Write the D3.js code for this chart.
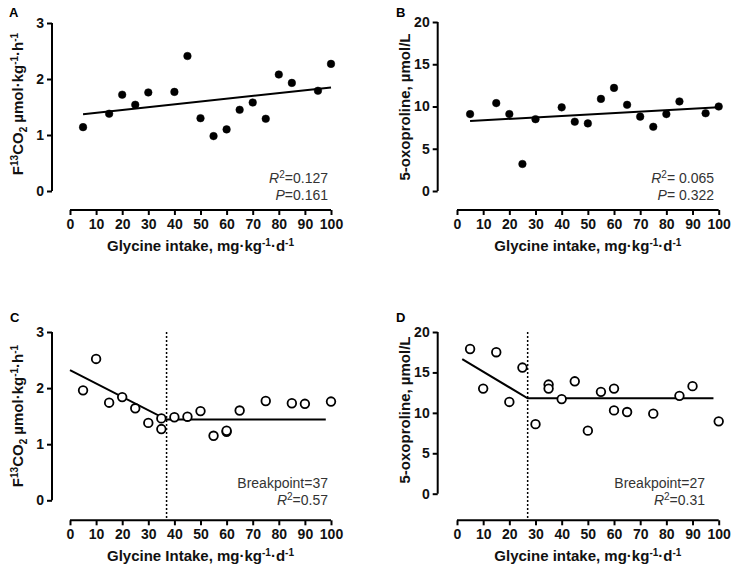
<!DOCTYPE html>
<html><head><meta charset="utf-8">
<script src="https://cdn.jsdelivr.net/npm/d3@7"></script>
<style>body{margin:0;background:#fff}svg{display:block}text{font-family:"Liberation Sans",Arial,sans-serif}</style>
</head><body><svg id="c" width="732" height="567"></svg>
<script>
const xTicks = [0,10,20,30,40,50,60,70,80,90,100];
const ticksF = [0,1,2,3];
const ticks5 = [0,5,10,15,20];

const intakeA = [5,15,20,25,30,40,45,50,55,60,65,70,75,80,85,95,100];
const valuesA = [1.14,1.38,1.72,1.54,1.76,1.77,2.41,1.30,0.98,1.10,1.45,1.58,1.29,2.08,1.93,1.79,2.27];
const fitA = [[5,1.37],[100,1.85]];

const intakeB = [5,15,20,25,30,40,45,50,55,60,65,70,75,80,85,95,100];
const valuesB = [9.1,10.4,9.1,3.2,8.5,9.9,8.2,8.0,10.9,12.2,10.2,8.8,7.6,9.1,10.6,9.2,10.0];
const fitB = [[5,8.28],[100,9.9]];

const intakeC = [5,10,15,20,25,30,35,35,40,45,50,55,60,60,65,75,85,90,100];
const valuesC = [1.96,2.52,1.74,1.84,1.64,1.38,1.46,1.27,1.48,1.49,1.59,1.15,1.22,1.24,1.60,1.77,1.73,1.72,1.76];
const fitC = [[0,2.32],[37,1.44],[98,1.44]];
const breakC = 37;

const intakeD = [5,10,15,20,25,30,35,35,40,45,50,55,60,60,65,75,85,90,100];
const valuesD = [17.9,13.0,17.5,11.35,15.6,8.6,13.5,13.0,11.7,13.9,7.8,12.6,13.0,10.3,10.1,9.9,12.1,13.3,8.95];
const fitD = [[2,16.65],[27,11.8],[98,11.8]];
const breakD = 27;

const svg = d3.select("#c");

function panel(o){
  const g = svg.append("g");
  const x = d3.scaleLinear().domain([0,100]).range([o.x0,o.x1]);
  const y = d3.scaleLinear().domain(o.yDomain).range([o.yBot,o.yTop]);
  // y axis
  const ya = g.append("g").attr("transform",`translate(${o.yAxisX},0)`)
    .call(d3.axisLeft(y).tickValues(o.yTicks).tickSize(5).tickPadding(3).tickFormat(d3.format("d")));
  // x axis
  const xa = g.append("g").attr("transform",`translate(0,${o.xAxisY})`)
    .call(d3.axisBottom(x).tickValues(xTicks).tickSize(5).tickPadding(4).tickFormat(d3.format("d")));
  [ya,xa].forEach(a=>{
    a.select(".domain").attr("stroke","#000").attr("stroke-width",2);
    a.selectAll(".tick line").attr("stroke","#000").attr("stroke-width",2);
    a.selectAll(".tick text").attr("fill","#111").attr("font-size",14).attr("font-weight","bold")
      .attr("font-family",'"Liberation Sans",Arial,sans-serif');
  });
  ya.select(".domain").attr("d",`M-0,${o.yBot}V${o.yTop}`);
  xa.select(".domain").attr("d",`M${o.x0},0H${o.x1}`);
  // breakpoint
  if (o.brk!=null){
    g.append("line").attr("x1",x(o.brk)).attr("x2",x(o.brk)).attr("y1",o.yTop).attr("y2",o.xAxisY)
      .attr("stroke","#000").attr("stroke-width",1.5).attr("stroke-dasharray","2,2");
  }
  // fit line
  g.append("path").datum(o.fit).attr("fill","none").attr("stroke","#000").attr("stroke-width",2)
    .attr("d",d3.line().x(d=>x(d[0])).y(d=>y(d[1])));
  // points
  g.selectAll("circle.pt").data(o.xs.map((v,i)=>[v,o.ys[i]])).join("circle").attr("class","pt")
    .attr("cx",d=>x(d[0])).attr("cy",d=>y(d[1])).attr("r",o.open?4.3:3.8)
    .attr("fill",o.open?"#fff":"#000").attr("stroke","#000").attr("stroke-width",o.open?1.8:0.5);
  // panel label
  g.append("text").attr("x",o.lblX).attr("y",o.lblY).attr("font-size",13).attr("font-weight","bold").text(o.label);
  // x title
  const xt = g.append("text").attr("x",(o.x0+o.x1)/2).attr("y",o.xTitleY).attr("text-anchor","middle")
    .attr("font-size",15).attr("font-weight","bold").attr("fill","#111");
  xt.append("tspan").text(o.xTitle+", mg·kg");
  xt.append("tspan").attr("dy",-5).attr("font-size",10).text("-1");
  xt.append("tspan").attr("dy",5).text("·d");
  xt.append("tspan").attr("dy",-5).attr("font-size",10).text("-1");
  // y title
  const yt = g.append("text").attr("transform",`translate(${o.yTitleX},${o.yTitleY}) rotate(-90)`)
    .attr("text-anchor","middle").attr("font-size",15).attr("font-weight","bold").attr("fill","#111");
  if (o.kind==="F"){
    yt.append("tspan").text("F");
    yt.append("tspan").attr("dy",-5).attr("font-size",10).text("13");
    yt.append("tspan").attr("dy",5).text("CO");
    yt.append("tspan").attr("dy",4).attr("font-size",10).text("2");
    yt.append("tspan").attr("dy",-4).text(" µmol·kg");
    yt.append("tspan").attr("dy",-5).attr("font-size",10).text("-1");
    yt.append("tspan").attr("dy",5).text("·h");
    yt.append("tspan").attr("dy",-5).attr("font-size",10).text("-1");
  } else {
    yt.text("5-oxoproline, µmol/L");
  }
  // annotations
  o.notes.forEach((n,i)=>{
    const t = g.append("text").attr("x",o.noteX).attr("y",o.noteY+i*16.5).attr("text-anchor","end")
      .attr("font-size",14).attr("fill","#333");
    n.forEach(p=>{
      const s = t.append("tspan").text(p.t);
      if (p.i) s.attr("font-style","italic");
      if (p.sup) s.attr("dy",-5).attr("font-size",10);
      if (p.down) s.attr("dy",5);
    });
  });
}

panel({label:"A",lblX:9,lblY:17,x0:70,x1:331,yAxisX:52,yTop:23,yBot:191,xAxisY:210,yDomain:[0,3],yTicks:ticksF,
  xs:intakeA,ys:valuesA,fit:fitA,open:false,kind:"F",xTitle:"Glycine intake",xTitleY:251,yTitleX:23,yTitleY:104,
  noteX:328,noteY:183,notes:[[{t:"R",i:1},{t:"2",sup:1},{t:"=0.127",down:1}],[{t:"P",i:1},{t:"=0.161"}]]});
panel({label:"B",lblX:396,lblY:17,x0:457,x1:718.7,yAxisX:437.7,yTop:22,yBot:191,xAxisY:210,yDomain:[0,20],yTicks:ticks5,
  xs:intakeB,ys:valuesB,fit:fitB,open:false,kind:"O",xTitle:"Glycine intake",xTitleY:251,yTitleX:410,yTitleY:107,
  noteX:714,noteY:183,notes:[[{t:"R",i:1},{t:"2",sup:1},{t:"= 0.065",down:1}],[{t:"P",i:1},{t:"= 0.322"}]]});
panel({label:"C",lblX:10,lblY:322,x0:70,x1:331,yAxisX:52,yTop:332,yBot:500.3,xAxisY:520.3,yDomain:[0,3],yTicks:ticksF,
  xs:intakeC,ys:valuesC,fit:fitC,open:true,brk:breakC,kind:"F",xTitle:"Glycine Intake",xTitleY:561,yTitleX:23,yTitleY:416,
  noteX:328,noteY:488,notes:[[{t:"Breakpoint=37"}],[{t:"R",i:1},{t:"2",sup:1},{t:"=0.57",down:1}]]});
panel({label:"D",lblX:396,lblY:322,x0:457,x1:718.7,yAxisX:437.7,yTop:332,yBot:493.7,xAxisY:520.3,yDomain:[0,20],yTicks:ticks5,
  xs:intakeD,ys:valuesD,fit:fitD,open:true,brk:breakD,kind:"O",xTitle:"Glycine intake",xTitleY:561,yTitleX:410,yTitleY:410,
  noteX:705,noteY:488,notes:[[{t:"Breakpoint=27"}],[{t:"R",i:1},{t:"2",sup:1},{t:"=0.31",down:1}]]});
</script></body></html>
